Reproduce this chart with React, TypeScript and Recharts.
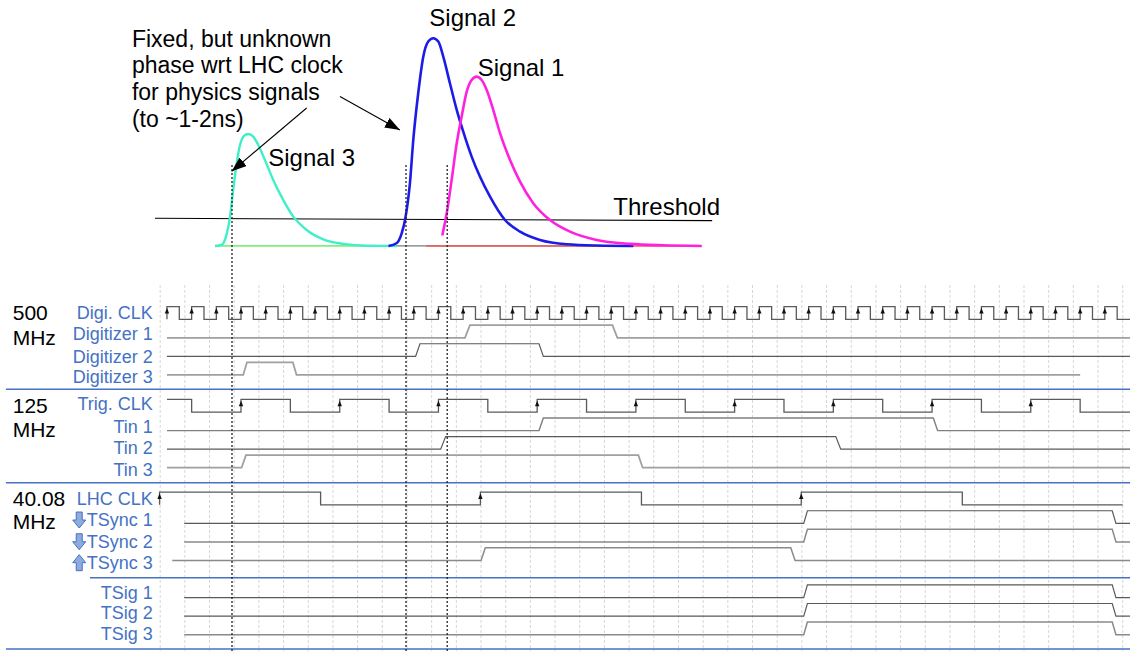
import { ComposedChart, Line, Scatter, XAxis, YAxis, ReferenceLine } from "recharts";

if (typeof document !== "undefined") document.body.style.margin = "0";

const FONT = '"Liberation Sans", Arial, sans-serif';
const BLUE = "#4472c4";

// axes: time in ns (0 = first Digi. CLK rising edge), waveform rows, pulse amplitude
const timeDomain: [number, number] = [-13.53, 78.04];
const rowDomain: [number, number] = [-17.21, 17.88];
const ampDomain: [number, number] = [-1.95, 1.184];
const HIGH = 0.68; // logic high, in rows

// ---- analogue pulses [t, amplitude] ----
const signal3 = [
  [3.89, 0], [4.43, 0.005], [4.78, 0.045], [5.11, 0.141], [5.37, 0.27], [5.65, 0.398],
  [5.92, 0.486], [6.24, 0.53], [6.59, 0.539], [6.99, 0.526], [7.4, 0.486], [7.94, 0.414],
  [8.61, 0.318], [9.42, 0.222], [10.24, 0.141], [11.32, 0.077], [12.67, 0.032],
  [14.29, 0.01], [16.18, 0.001], [18.61, 0],
];
const signal2 = [
  [17.95, 0], [18.6, 0.013], [19.02, 0.061], [19.29, 0.125], [19.69, 0.303], [19.96, 0.51],
  [20.36, 0.735], [20.77, 0.911], [21.17, 0.984], [21.58, 1.0], [21.99, 0.984], [22.39, 0.911],
  [22.93, 0.783], [23.48, 0.655], [24.01, 0.55], [24.69, 0.43], [25.36, 0.334], [26.18, 0.237],
  [27.39, 0.125], [28.61, 0.069], [30.23, 0.029], [32.39, 0.008], [34.82, 0.002], [37.79, 0],
];
const signal1 = [
  [22.31, 0.05], [22.67, 0.157], [23.07, 0.318], [23.48, 0.494], [23.88, 0.623], [24.29, 0.743],
  [24.69, 0.799], [25.1, 0.815], [25.5, 0.799], [25.91, 0.751], [26.44, 0.655], [26.99, 0.543],
  [27.8, 0.414], [28.61, 0.31], [29.68, 0.206], [31.04, 0.125], [32.66, 0.069], [34.82, 0.029],
  [37.52, 0.01], [40.22, 0.003], [43.33, 0],
];
const thresholdLine = [[-0.97, 0.133], [44.18, 0.122]];
const baseline3 = [[3.89, 0], [18.61, 0]];
const baseline2 = [[17.95, 0], [37.79, 0]];
const baseline1 = [[21.0, 0], [43.33, 0]];
const crossingTimes = [5.27, 19.37, 22.71];
const crossingTop = 0.39;

// annotation arrows [t, amplitude] from -> to
const arrows = [
  [[11.32, 0.664], [5.24, 0.359]],
  [[14.02, 0.719], [18.88, 0.558]],
];

// ---- digital waveforms: toggle times (ns) ----
const digiClkEdges = [
  0, 1, 2, 3, 4, 5, 6, 7, 8, 9, 10, 11, 12, 13, 14, 15, 16, 17, 18, 19, 20, 21, 22, 23, 24, 25,
  26, 27, 28, 29, 30, 31, 32, 33, 34, 35, 36, 37, 38, 39, 40, 41, 42, 43, 44, 45, 46, 47, 48, 49,
  50, 51, 52, 53, 54, 55, 56, 57, 58, 59, 60, 61, 62, 63, 64, 65, 66, 67, 68, 69, 70, 71, 72, 73,
  74, 75, 76, 77,
];
const digitizer1Edges = [24.15, 36.1];
const digitizer2Edges = [20.15, 30.15];
const digitizer3Edges = [6.18, 10.2];
const trigClkEdges = [2, 6, 10, 14, 18, 22, 26, 30, 34, 38, 42, 46, 50, 54, 58, 62, 66, 70, 74];
const tin1Edges = [30.15, 62.1];
const tin2Edges = [22.18, 54.2];
const tin3Edges = [6.05, 38.2];
const lhcClkEdges = [-0.6, 12.45, 25.4, 38.45, 51.4, 64.45];
const tsync12Edges = [51.6, 76.6];
const tsync3Edges = [25.45, 50.55];
const tsigEdges = [51.6, 76.6];

type Wave = {
  row: number; start: number; end: number; init: number; edges: number[]; slew: number;
  color: string; width: number; clock?: boolean;
};

const DARK = "#5a5a5a";
const LIGHT = "#a0a0a0";
const END = 78.04;

const waves: Wave[] = [
  { row: 0, start: 0, end: END, init: 0, edges: digiClkEdges, slew: 0, color: DARK, width: 1.3, clock: true },
  { row: 1, start: 0, end: END, init: 0, edges: digitizer1Edges, slew: 0.4, color: LIGHT, width: 1.8 },
  { row: 2, start: 0, end: END, init: 0, edges: digitizer2Edges, slew: 0.35, color: DARK, width: 1.2 },
  { row: 3, start: 0, end: 74.0, init: 0, edges: digitizer3Edges, slew: 0.3, color: LIGHT, width: 1.8 },
  { row: 5, start: 0, end: END, init: 1, edges: trigClkEdges, slew: 0, color: DARK, width: 1.3, clock: true },
  { row: 6, start: 0, end: END, init: 0, edges: tin1Edges, slew: 0.35, color: "#808080", width: 1.4 },
  { row: 7, start: 0, end: END, init: 0, edges: tin2Edges, slew: 0.4, color: DARK, width: 1.2 },
  { row: 8, start: 0, end: END, init: 0, edges: tin3Edges, slew: 0.35, color: LIGHT, width: 1.8 },
  { row: 10, start: -0.6, end: 77.45, init: 0, edges: lhcClkEdges, slew: 0, color: DARK, width: 1.3, clock: true },
  { row: 11, start: 1.4, end: END, init: 0, edges: tsync12Edges, slew: 0.3, color: DARK, width: 1.2 },
  { row: 12, start: 1.4, end: END, init: 0, edges: tsync12Edges, slew: 0.3, color: "#8a8a8a", width: 1.5 },
  { row: 13, start: 0.43, end: END, init: 0, edges: tsync3Edges, slew: 0.35, color: "#8a8a8a", width: 1.5 },
  { row: 15, start: 1.4, end: END, init: 0, edges: tsigEdges, slew: 0.3, color: DARK, width: 1.2 },
  { row: 16, start: 1.4, end: END, init: 0, edges: tsigEdges, slew: 0.3, color: DARK, width: 1.2 },
  { row: 17, start: 1.4, end: END, init: 0, edges: tsigEdges, slew: 0.3, color: "#8a8a8a", width: 1.5 },
];

// section separators: row position and left end (ns)
const separators = [
  { row: 3.77, from: -13.05 },
  { row: 8.81, from: -13.05 },
  { row: 13.93, from: -6.24 },
  { row: 17.77, from: -13.05 },
];

// ---- texts ----
const signalNames = [
  { t: 21.26, y: 1.059, text: "Signal 2" },
  { t: 25.18, y: 0.819, text: "Signal 1" },
  { t: 8.21, y: 0.385, text: "Signal 3" },
  { t: 36.17, y: 0.149, text: "Threshold" },
];
const noteLines = [
  { t: -2.84, y: 0.959, text: "Fixed, but unknown" },
  { t: -2.84, y: 0.832, text: "phase wrt LHC clock" },
  { t: -2.84, y: 0.703, text: "for physics signals" },
  { t: -2.84, y: 0.575, text: "(to ~1-2ns)" },
];
const freqLabels = [
  { t: -12.5, y: 0.04, text: "500" },
  { t: -12.5, y: 1.385, text: "MHz" },
  { t: -12.5, y: 5.05, text: "125" },
  { t: -12.5, y: 6.345, text: "MHz" },
  { t: -12.5, y: 10.06, text: "40.08" },
  { t: -12.5, y: 11.305, text: "MHz" },
];
const signalLabels = [
  { y: -0.32, text: "Digi. CLK" },
  { y: 0.81, text: "Digitizer 1" },
  { y: 2.02, text: "Digitizer 2" },
  { y: 3.13, text: "Digitizer 3" },
  { y: 4.57, text: "Trig. CLK" },
  { y: 5.79, text: "Tin 1" },
  { y: 6.95, text: "Tin 2" },
  { y: 8.12, text: "Tin 3" },
  { y: 9.69, text: "LHC CLK" },
  { y: 10.82, text: "TSync 1" },
  { y: 11.99, text: "TSync 2" },
  { y: 13.12, text: "TSync 3" },
  { y: 14.74, text: "TSig 1" },
  { y: 15.85, text: "TSig 2" },
  { y: 16.97, text: "TSig 3" },
];
const syncIcons = [
  { y: 10.82, dir: "down" },
  { y: 11.99, dir: "down" },
  { y: 13.12, dir: "up" },
];

// ---- helpers ----
const pts = (arr: number[][]) => arr.map(([t, y]) => ({ t, y }));

function wavePoints(w: Wave) {
  const out: { t: number; y: number }[] = [];
  let lvl = w.init;
  out.push({ t: w.start, y: w.row - lvl * HIGH });
  for (const e of w.edges) {
    out.push({ t: e, y: w.row - lvl * HIGH });
    lvl = 1 - lvl;
    out.push({ t: e + w.slew, y: w.row - lvl * HIGH });
  }
  out.push({ t: w.end, y: w.row - lvl * HIGH });
  return out;
}

function risingEdges(w: Wave) {
  return w.edges
    .filter((_, i) => (w.init === 0 ? i % 2 === 0 : i % 2 === 1))
    .map((t) => ({ t, y: w.row - 0.42 }));
}

const clockArrows = waves.filter((w) => w.clock).flatMap(risingEdges);
const gridTimes = Array.from({ length: 40 }, (_, i) => -0.55 + 2 * i);

const EdgeArrow = (p: any) => (
  <polygon
    points={`${p.cx},${p.cy - 3.5} ${p.cx + 2.2},${p.cy + 2} ${p.cx - 2.2},${p.cy + 2}`}
    fill="#111"
  />
);

const SyncIcon = (p: any) => {
  const { cx, cy } = p;
  const d = p.payload.dir === "up" ? -1 : 1;
  const q = [
    [cx - 3, cy - 8 * d], [cx + 3, cy - 8 * d], [cx + 3, cy], [cx + 6.5, cy],
    [cx, cy + 8 * d], [cx - 6.5, cy], [cx - 3, cy],
  ];
  return (
    <polygon points={q.map((v) => v.join(",")).join(" ")} fill="#8faadc" stroke={BLUE} strokeWidth={1} />
  );
};

const makeText = (size: number, color: string, anchor: "start" | "end", baseline: string) => (p: any) => (
  <text
    x={p.cx}
    y={p.cy}
    textAnchor={anchor}
    dominantBaseline={baseline as any}
    fontSize={size}
    fontFamily={FONT}
    fill={color}
  >
    {p.payload.text}
  </text>
);

const BigText = makeText(24, "#000", "start", "alphabetic");
const NoteText = makeText(23, "#000", "start", "alphabetic");
const FreqText = makeText(21, "#000", "start", "alphabetic");
const BlueText = makeText(18, BLUE, "end", "central");

export default function App() {
  return (
    <ComposedChart width={1130} height={651} margin={{ top: 0, right: 0, bottom: 0, left: 0 }}>
      <defs>
        <marker
          id="arrowHead"
          markerWidth="15"
          markerHeight="11"
          refX="15"
          refY="5.5"
          orient="auto"
          markerUnits="userSpaceOnUse"
        >
          <path d="M0,0 L15,5.5 L0,11 z" fill="#000" />
        </marker>
      </defs>
      <XAxis dataKey="t" type="number" domain={timeDomain} allowDataOverflow hide />
      <YAxis yAxisId="row" type="number" domain={rowDomain} reversed allowDataOverflow hide />
      <YAxis yAxisId="amp" type="number" domain={ampDomain} allowDataOverflow hide />

      {gridTimes.map((t) => (
        <ReferenceLine
          key={`g${t}`}
          yAxisId="row"
          segment={[{ x: t, y: -1.85 }, { x: t, y: 17.88 }]}
          stroke="#d6d6d6"
          strokeDasharray="3 2"
        />
      ))}

      {separators.map((s, i) => (
        <Line
          key={`sep${i}`}
          yAxisId="row"
          data={[{ t: s.from, y: s.row }, { t: END, y: s.row }]}
          dataKey="y"
          stroke={BLUE}
          strokeWidth={1.4}
          dot={false}
          activeDot={false}
          isAnimationActive={false}
        />
      ))}

      {waves.map((w, i) => (
        <Line
          key={`w${i}`}
          yAxisId="row"
          data={wavePoints(w)}
          dataKey="y"
          type="linear"
          stroke={w.color}
          strokeWidth={w.width}
          dot={false}
          activeDot={false}
          isAnimationActive={false}
        />
      ))}
      <Scatter yAxisId="row" data={clockArrows} dataKey="y" shape={EdgeArrow} isAnimationActive={false} />

      <Line yAxisId="amp" data={pts(baseline3)} dataKey="y" stroke="#80ee80" strokeWidth={1.8} dot={false} activeDot={false} isAnimationActive={false} />
      <Line yAxisId="amp" data={pts(baseline2)} dataKey="y" stroke="#7a7a7a" strokeWidth={1.3} dot={false} activeDot={false} isAnimationActive={false} />
      <Line yAxisId="amp" data={pts(baseline1)} dataKey="y" stroke="#f05a5a" strokeWidth={1.5} dot={false} activeDot={false} isAnimationActive={false} />
      <Line yAxisId="amp" data={pts(thresholdLine)} dataKey="y" stroke="#000" strokeWidth={1.1} dot={false} activeDot={false} isAnimationActive={false} />

      <Line yAxisId="amp" data={pts(signal3)} dataKey="y" type="monotone" stroke="#3ff0c6" strokeWidth={2.4} dot={false} activeDot={false} isAnimationActive={false} />
      <Line yAxisId="amp" data={pts(signal2)} dataKey="y" type="monotone" stroke="#1c1ce6" strokeWidth={2.6} dot={false} activeDot={false} isAnimationActive={false} />
      <Line yAxisId="amp" data={pts(signal1)} dataKey="y" type="monotone" stroke="#ff22dc" strokeWidth={2.6} dot={false} activeDot={false} isAnimationActive={false} />

      {crossingTimes.map((t, i) => (
        <Line
          key={`c${i}`}
          yAxisId="amp"
          data={[{ t, y: crossingTop }, { t, y: ampDomain[0] }]}
          dataKey="y"
          stroke="#222"
          strokeWidth={1.3}
          strokeDasharray="2 2"
          dot={false}
          activeDot={false}
          isAnimationActive={false}
        />
      ))}

      {arrows.map((a, i) => (
        <Line
          key={`a${i}`}
          yAxisId="amp"
          data={pts(a)}
          dataKey="y"
          stroke="#000"
          strokeWidth={1.1}
          markerEnd="url(#arrowHead)"
          dot={false}
          activeDot={false}
          isAnimationActive={false}
        />
      ))}

      <Scatter yAxisId="amp" data={signalNames} dataKey="y" shape={BigText} isAnimationActive={false} />
      <Scatter yAxisId="amp" data={noteLines} dataKey="y" shape={NoteText} isAnimationActive={false} />
      <Scatter yAxisId="row" data={freqLabels} dataKey="y" shape={FreqText} isAnimationActive={false} />
      <Scatter
        yAxisId="row"
        data={signalLabels.map((l) => ({ ...l, t: -1.15 }))}
        dataKey="y"
        shape={BlueText}
        isAnimationActive={false}
      />
      <Scatter
        yAxisId="row"
        data={syncIcons.map((s) => ({ ...s, t: -7.11 }))}
        dataKey="y"
        shape={SyncIcon}
        isAnimationActive={false}
      />
    </ComposedChart>
  );
}
